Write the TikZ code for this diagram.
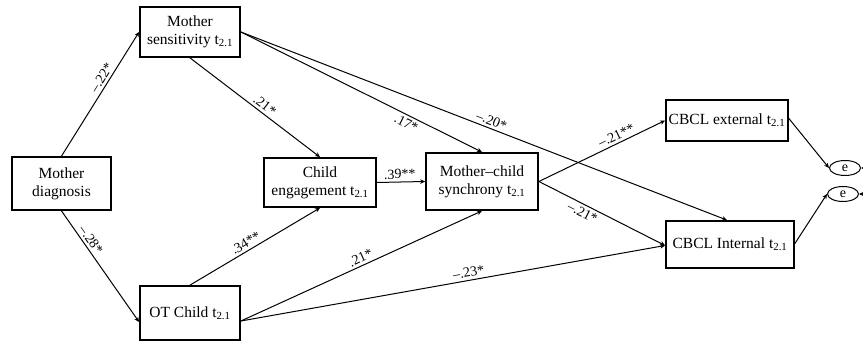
\documentclass[tikz,border=0pt]{standalone}
\usepackage{fontspec}
\setmainfont{Liberation Serif}
\usetikzlibrary{arrows.meta,shapes.geometric}
\begin{document}
\begin{tikzpicture}[x=1pt,y=-1pt,
 box/.style={draw,line width=1.8pt,align=center,font=\fontsize{15.5}{18}\selectfont,inner sep=0pt},
 arr/.style={-{Stealth[length=5pt,width=4.5pt]},line width=1pt},
 lab/.style={font=\fontsize{14}{15}\selectfont,sloped,inner sep=2.5pt},
 err/.style={draw,ellipse,line width=1pt,inner sep=0pt,minimum width=31pt,minimum height=15pt,font=\fontsize{14}{15}\selectfont}]
\useasboundingbox (0,0) rectangle (863,347);
\node[box,minimum width=99pt,minimum height=53pt] (md) at (61.5,183.5) {Mother\\diagnosis};
\node[box,minimum width=100pt,minimum height=50pt] (ms) at (190,32) {Mother\\sensitivity t\textsubscript{2.1}};
\node[box,minimum width=100pt,minimum height=54pt] (ot) at (190,313) {OT Child t\textsubscript{2.1}};
\node[box,minimum width=112pt,minimum height=49pt] (ce) at (320,182.5) {Child\\engagement t\textsubscript{2.1}};
\node[box,minimum width=112pt,minimum height=57pt] (mc) at (482,181.5) {Mother--child\\synchrony t\textsubscript{2.1}};
\node[box,minimum width=122pt,minimum height=41pt] (ext) at (727,120.5) {CBCL external t\textsubscript{2.1}};
\node[box,minimum width=128pt,minimum height=47pt] (int) at (730,244.5) {CBCL Internal t\textsubscript{2.1}};
\node[err] (e1) at (845,168) {e};
\node[err] (e2) at (843,194) {e};
\coordinate (s1) at (868,168);
\coordinate (s2) at (866,194);

\draw[arr] (md.north) -- node[lab,above,pos=0.6]{--.22*} (ms.west);
\draw[arr] (md.south) -- node[lab,above,pos=0.3]{--.28*} ([yshift=-9pt]ot.west);
\draw[arr] (ms.south) -- node[lab,above,pos=0.54]{.21*} (ce.north);
\draw[arr] (ms.east) -- node[lab,below,pos=0.7]{.17*} (mc.north);
\draw[arr] (ms.east) -- node[lab,above,pos=0.51]{--.20*} ([xshift=-3pt]int.north);
\draw[arr] (ot.north) -- node[lab,above,pos=0.46]{.34**} (ce.south);
\draw[arr] ([yshift=-8pt]ot.east) -- node[lab,above,pos=0.51]{.21*} (mc.south);
\draw[arr] ([yshift=-8pt]ot.east) -- node[lab,above,pos=0.54]{--.23*} ([yshift=-1pt]int.west);
\draw[arr] (ce.east) -- node[lab,above,pos=0.48]{.39**} (mc.east -| mc.west);
\draw[arr] (mc.east) -- node[lab,above,pos=0.64]{--.21**} (ext.west);
\draw[arr] (mc.east) -- node[lab,below,pos=0.375]{--.21*} ([yshift=-1pt]int.west);
\draw[arr] ([yshift=2pt]ext.east) -- (e1.west);
\draw[arr] ([yshift=1pt]int.east) -- (e2.west);
\draw[arr] (s1) -- (e1.east);
\draw[arr] (s2) -- (e2.east);
\end{tikzpicture}
\end{document}
